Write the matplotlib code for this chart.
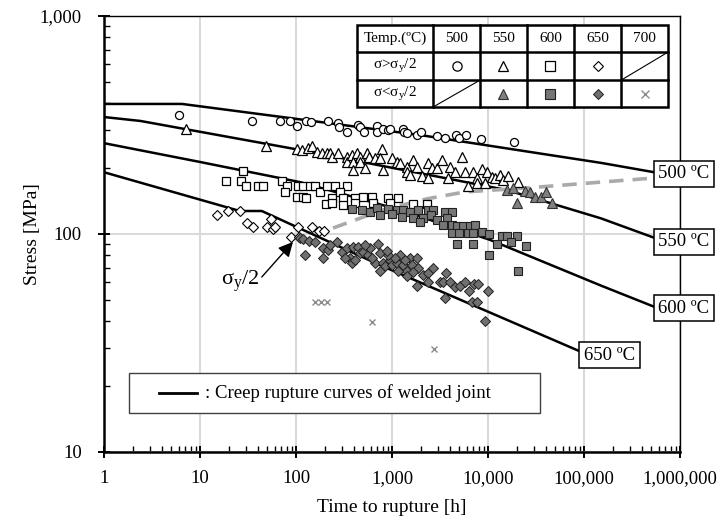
import matplotlib.pyplot as plt
from matplotlib.ticker import FuncFormatter, LogLocator, NullFormatter
from matplotlib.patches import Rectangle

plt.rcParams['font.family'] = ['Liberation Serif', 'DejaVu Serif']
plt.rcParams['mathtext.fontset'] = 'custom'
plt.rcParams['mathtext.rm'] = 'Liberation Serif'
plt.rcParams['mathtext.it'] = 'Liberation Serif:italic'

# ---- data (time [h], stress [MPa]) ----
t500_open = [6, 35, 68, 87, 102, 127, 143, 215, 274, 280, 340, 440, 465, 510, 700, 700,
             805, 910, 950, 1300, 1330, 1430, 1820, 2000, 2940, 3570, 4640, 4990, 5900, 8450, 18700]
s500_open = [350, 330, 330, 330, 313, 330, 326, 330, 323, 310, 294, 316, 310, 294, 313, 294,
             303, 300, 303, 303, 294, 291, 285, 294, 282, 276, 285, 276, 285, 273, 264]

t550_open = [7.2, 49, 102, 116, 133, 147, 165, 187, 210, 226, 237, 274, 340, 340, 383, 393, 432,
             464, 464, 549, 576, 665, 787, 393, 523, 806, 750, 1000, 1127, 1210, 1433, 1433, 1540,
             1650, 1820, 2050, 2370, 2370, 2610, 2940, 3320, 3830, 4020, 4530, 5360, 5760, 6190,
             6980, 7680, 8660, 9760, 11000, 11800, 13300, 14300, 16200, 20500, 7680, 9300]
s550_open = [303, 253, 245, 243, 248, 253, 238, 235, 235, 235, 226, 235, 226, 214, 230, 214, 235,
             226, 214, 235, 226, 223, 245, 197, 201, 197, 223, 223, 214, 212, 203, 192, 186,
             218, 203, 184, 212, 181, 201, 201, 218, 181, 203, 192, 226, 192, 166,
             192, 181, 199, 192, 183, 181, 186, 177, 184, 173, 171, 171]
t550_fill = [15800, 18200, 20000, 24300, 27400, 30900, 35700, 40200, 46400]
s550_fill = [159, 163, 139, 158, 156, 148, 148, 156, 139]

t600_open = [18.7, 26.7, 28, 30, 40, 45, 71.5, 80.6, 76.9, 105, 118, 140, 158, 178, 210, 102, 118,
             205, 254, 340, 128, 237, 287, 309, 237, 309, 412, 498, 619, 634, 909, 1150, 953,
             1650, 2310, 412]
s600_open = [175, 175, 194, 166, 166, 166, 175, 166, 156, 166, 166, 166, 166, 156, 166, 148, 148,
             137, 166, 166, 146, 146, 156, 146, 139, 136, 146, 148, 148, 139, 146, 146, 139,
             137, 137, 139]
t600_fill = [383, 487, 590, 698, 909, 1127, 1300, 1540, 1870, 2370, 2670, 1270, 1650, 2100, 2550,
             2940, 3570, 4220, 3740, 3400, 4220, 4750, 5490, 6490, 7320, 4220, 4990, 6190, 6980,
             8660, 4750, 6980, 10240, 14000, 15800, 20000, 12400, 17400, 24900, 10240, 20500,
             1000, 750, 1960]
s600_fill = [130, 129, 126, 132, 130, 129, 129, 126, 129, 129, 129, 120, 118, 118, 122,
             116, 126, 126, 118, 110, 110, 109, 109, 109, 110, 101, 101, 101, 101,
             102, 90, 90, 100, 98, 98, 98, 90, 92, 88, 80, 68,
             124, 122, 113]

t650_open = [15, 19.6, 26, 31, 36, 55, 50, 57, 60, 105, 89, 107, 147, 174, 195]
s650_open = [122, 128, 128, 112, 108, 117, 108, 105, 108, 108, 97, 97, 108, 103, 103]
t650_fill = [110, 118, 124, 136, 158, 190, 190, 215, 267, 301, 340, 365, 383, 393, 442, 464, 498,
             562, 590, 665, 715, 750, 806, 845, 953, 1000, 1127, 1210, 1300, 1433, 1540, 1620,
             1820, 1870, 2100, 2370, 2670, 3160, 3400, 3650, 4020, 4530, 5110, 5760, 6340, 7150,
             7870, 10000, 3570, 1820, 2370, 750, 1433, 6810, 7680, 9300, 226, 1075, 909, 324,
             412, 523, 619, 887, 1155, 1370, 1650]
s650_fill = [96, 95, 80, 93, 92, 86, 78, 84.5, 92, 83, 86, 78, 74, 87, 87, 82, 83,
             80, 86, 74, 90, 82, 74, 71, 76, 72, 74, 80, 72, 68, 78, 72,
             78, 70, 65, 66, 70, 60, 60, 66, 60, 57, 58, 60, 55, 59,
             59, 55, 51, 58, 60, 68, 64, 49, 49, 40, 89, 78, 80, 78,
             76, 89, 78, 84, 68, 76, 67]

t700 = [158, 183, 210, 620, 2740]
s700 = [49, 49, 49, 39.5, 29.7]

# creep rupture curves of welded joint
tc500 = [1, 6.5, 2000, 150000, 1e6]
sc500 = [395, 395, 284, 212, 183]
tc550 = [1, 2.4, 110, 15800, 150000, 1e6]
sc550 = [344, 330, 243, 159, 118, 87]
tc600 = [1, 10, 110, 1210, 10500, 150000, 1e6]
sc600 = [261, 214, 173, 129, 94, 58, 41.6]
tc650 = [1, 26, 44, 750, 95000]
sc650 = [192, 127.5, 127.5, 72, 28.7]
# sigma_y / 2 line
t_half = [243, 806, 2320, 5760, 27400, 150000, 1e6]
s_half = [106.5, 129, 145, 156, 163, 173, 184.5]

temps = ['500', '550', '600', '650', '700']

# marker styles
m_circle = dict(marker='o', mfc='white', mec='black', ms=5.8, mew=0.9, ls='none')
m_tri = dict(marker='^', mfc='white', mec='black', ms=6.8, mew=0.9, ls='none')
m_sq = dict(marker='s', mfc='white', mec='black', ms=5.8, mew=0.9, ls='none')
m_dia = dict(marker='D', mfc='white', mec='black', ms=4.8, mew=0.8, ls='none')
m_tri_f = dict(marker='^', mfc='#808080', mec='#303030', ms=6.8, mew=0.8, ls='none')
m_sq_f = dict(marker='s', mfc='#767676', mec='#202020', ms=5.8, mew=0.8, ls='none')
m_dia_f = dict(marker='D', mfc='#707070', mec='#202020', ms=4.8, mew=0.7, ls='none')
m_x = dict(marker='x', color='#8c8c8c', ms=5, mew=1.0, ls='none')

fig = plt.figure(figsize=(7.21, 5.23), dpi=100)
ax = fig.add_axes([104 / 721, 1 - 452 / 523, 576 / 721, 436 / 523])
ax.set_xscale('log')
ax.set_yscale('log')
ax.set_xlim(1, 1e6)
ax.set_ylim(10, 1000)

ax.grid(which='major', color='#d6d6d6', lw=1.3)
ax.set_axisbelow(True)

# curves
for tc, sc in [(tc500, sc500), (tc550, sc550), (tc600, sc600), (tc650, sc650)]:
    ax.plot(tc, sc, color='black', lw=1.8, zorder=2, solid_capstyle='butt')
ax.plot(t_half, s_half, color='#aaaaaa', lw=2.6, ls=(0, (4, 2.5)), zorder=2)

# data
ax.plot(t500_open, s500_open, zorder=3, **m_circle)
ax.plot(t550_open, s550_open, zorder=3, **m_tri)
ax.plot(t550_fill, s550_fill, zorder=3, **m_tri_f)
ax.plot(t600_open, s600_open, zorder=3, **m_sq)
ax.plot(t600_fill, s600_fill, zorder=3, **m_sq_f)
ax.plot(t650_open, s650_open, zorder=3, **m_dia)
ax.plot(t650_fill, s650_fill, zorder=3, **m_dia_f)
ax.plot(t700, s700, zorder=3, **m_x)

# axes styling
fmt = FuncFormatter(lambda v, p: f'{v:,.0f}')
ax.xaxis.set_major_formatter(fmt)
ax.yaxis.set_major_formatter(fmt)
for axis in (ax.xaxis, ax.yaxis):
    axis.set_major_locator(LogLocator(base=10, numticks=10))
    axis.set_minor_locator(LogLocator(base=10, subs=range(2, 10), numticks=20))
    axis.set_minor_formatter(NullFormatter())
ax.tick_params(which='major', direction='inout', length=8, width=1.4, labelsize=13.5)
ax.tick_params(which='minor', direction='in', length=4, width=1.0)
ax.tick_params(axis='x', which='major', pad=9)
ax.tick_params(axis='y', which='major', pad=12)
for side in ('left', 'bottom'):
    ax.spines[side].set_linewidth(1.8)
for side in ('top', 'right'):
    ax.spines[side].set_linewidth(1.0)

fig.text(392 / 721, 1 - 508 / 523, 'Time to rupture [h]', ha='center', va='center', fontsize=14)
fig.text(33 / 721, 1 - 234 / 523, 'Stress [MPa]', ha='center', va='center',
         rotation=90, fontsize=14)

# temperature labels
box = dict(boxstyle='square,pad=0.25', fc='white', ec='black', lw=1.1)
for lab, (xf, yf) in zip(['500 ºC', '550 ºC', '600 ºC', '650 ºC'],
                         [(1.007, 0.638), (1.007, 0.482), (1.007, 0.330), (0.878, 0.222)]):
    ax.text(xf, yf, lab, transform=ax.transAxes, ha='center', va='center', fontsize=13.5,
            bbox=box, zorder=6, clip_on=False)

# sigma_y/2 arrow
ax.annotate('', xy=(93, 92), xytext=(44, 63.5),
            arrowprops=dict(arrowstyle='-|>', color='black', lw=1.0, mutation_scale=22,
                            shrinkA=0, shrinkB=0), zorder=4)
ax.text(26.5, 61, r'σ$_\mathrm{y}$/2', ha='center', va='center', fontsize=16, zorder=4)

# legend box at bottom
ax.add_patch(Rectangle((0.0434, 0.0894), 0.7135, 0.0918, transform=ax.transAxes,
                       fc='white', ec='#404040', lw=1.0, zorder=5))
ax.plot([0.0955, 0.1615], [0.1353, 0.1353], transform=ax.transAxes, color='black', lw=2,
        zorder=6)
ax.text(0.1753, 0.1353, ': Creep rupture curves of welded joint', transform=ax.transAxes,
        ha='left', va='center', fontsize=13.5, zorder=6)

# symbol table (top right)
cols = [0.439, 0.571, 0.653, 0.734, 0.816, 0.898, 0.979]
rows = [0.979, 0.917, 0.853, 0.791]
ax.add_patch(Rectangle((cols[0], rows[-1]), cols[-1] - cols[0], rows[0] - rows[-1],
                       transform=ax.transAxes, fc='white', ec='black', lw=1.8, zorder=5))
for c in cols[1:-1]:
    ax.plot([c, c], [rows[-1], rows[0]], transform=ax.transAxes, color='black', lw=1.8, zorder=6)
for r in rows[1:-1]:
    ax.plot([cols[0], cols[-1]], [r, r], transform=ax.transAxes, color='black', lw=1.8, zorder=6)
# diagonals: 700 in row 2, 500 in row 3
ax.plot([cols[5], cols[6]], [rows[2], rows[1]], transform=ax.transAxes, color='black', lw=0.8, zorder=6)
ax.plot([cols[1], cols[2]], [rows[3], rows[2]], transform=ax.transAxes, color='black', lw=0.8, zorder=6)

cx = [(cols[i] + cols[i + 1]) / 2 for i in range(6)]
ry = [(rows[i] + rows[i + 1]) / 2 for i in range(3)]
ax.text(cx[0], ry[0], 'Temp.(ºC)', transform=ax.transAxes, ha='center', va='center', fontsize=11, zorder=7)
for i, tlab in enumerate(temps):
    ax.text(cx[i + 1], ry[0], tlab, transform=ax.transAxes, ha='center', va='center', fontsize=11, zorder=7)
ax.text(cx[0], ry[1], r'σ>σ$_\mathrm{y}$/2', transform=ax.transAxes, ha='center', va='center',
        fontsize=11, zorder=7)
ax.text(cx[0], ry[2], r'σ<σ$_\mathrm{y}$/2', transform=ax.transAxes, ha='center', va='center',
        fontsize=11, zorder=7)
for i, st in enumerate([m_circle, m_tri, m_sq, m_dia]):
    ax.plot([cx[i + 1]], [ry[1]], transform=ax.transAxes, clip_on=False, zorder=7,
            **dict(st, ms=st['ms'] * 1.15))
for i, st in enumerate([m_tri_f, m_sq_f, m_dia_f, m_x]):
    ax.plot([cx[i + 2]], [ry[2]], transform=ax.transAxes, clip_on=False, zorder=7,
            **dict(st, ms=st['ms'] * 1.15))

fig.savefig('out.png', dpi=100)
